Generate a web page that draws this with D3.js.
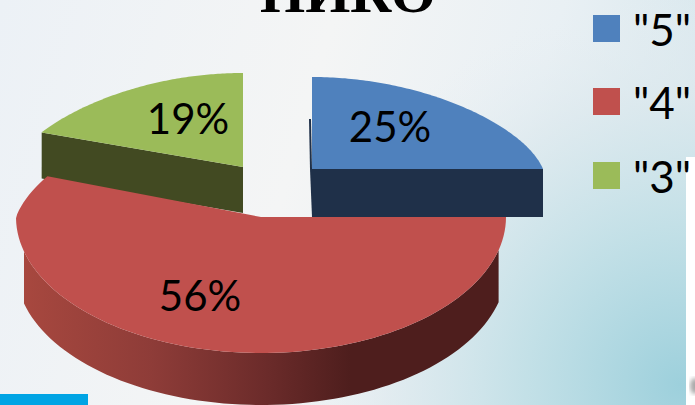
<!DOCTYPE html>
<html>
<head>
<meta charset="utf-8">
<script src="https://cdn.jsdelivr.net/npm/d3@7"></script>
<style>
  html, body { margin: 0; padding: 0; background: #fff; overflow: hidden; }
  svg { display: block; }
  text { font-family: Lato, "Open Sans", sans-serif; fill: #000; }
</style>
</head>
<body>
<svg id="chart" width="695" height="405"></svg>
<script>
const titleText = 'НИКО';
const categories = ['"5"', '"4"', '"3"'];
const values = [25, 56, 19];
const colors = ['#4f81bd', '#c0504d', '#9bbb59'];
const sideColors = ['#1f3049', 'url(#redSide)', '#424a22'];

// each slice sits on its own ellipse, the picture is a stretched 3d pie
const centersX = [312, 261, 243];
const centersY = [169, 217, 167];
const radiiX = [231, 245, 231];
const backRadiiY = [92, 111, 94];
const frontRadiiY = [92, 136, 94];
const depths = [48, 52, 46];
const labelX = [390, 200, 188];
const labelY = [126, 295, 118];
const legendY = [28, 101, 175];

const narrowing = 0.17;
const wallStart = 30;

const svg = d3.select('#chart');
const defs = svg.append('defs');

function gradient(id, x1, y1, x2, y2, stops) {
    const g = defs.append('linearGradient').attr('id', id)
        .attr('gradientUnits', 'userSpaceOnUse')
        .attr('x1', x1).attr('y1', y1).attr('x2', x2).attr('y2', y2);
    stops.forEach(s => g.append('stop').attr('offset', s[0]).attr('stop-color', s[1]));
}

gradient('bg', 0, 0, 695, 200, [[0, '#ecf1f6'], [0.45, '#f4f5f5'], [0.75, '#e9f0f4'], [1, '#d5e6ec']]);
gradient('redSide', 20, 0, 350, 0, [[0, '#a8483f'], [0.4, '#8e3c38'], [0.75, '#6b2b2a'], [1, '#4e1e1d']]);

const teal = defs.append('radialGradient').attr('id', 'teal')
    .attr('gradientUnits', 'userSpaceOnUse')
    .attr('cx', 680).attr('cy', 385).attr('r', 390);
teal.append('stop').attr('offset', 0).attr('stop-color', '#9dd0dc').attr('stop-opacity', 1);
teal.append('stop').attr('offset', 0.4).attr('stop-color', '#c0dfe6').attr('stop-opacity', 0.9);
teal.append('stop').attr('offset', 0.75).attr('stop-color', '#dde9ee').attr('stop-opacity', 0.7);
teal.append('stop').attr('offset', 1).attr('stop-color', '#e9eff3').attr('stop-opacity', 0);

defs.append('filter').attr('id', 'soft').append('feGaussianBlur').attr('stdDeviation', 2);

// background
svg.append('rect').attr('width', 695).attr('height', 405).attr('fill', 'url(#bg)');
svg.append('rect').attr('width', 695).attr('height', 405).attr('fill', 'url(#teal)');
svg.append('rect').attr('x', 686).attr('y', 157).attr('width', 9).attr('height', 248).attr('fill', '#fff');
svg.append('rect').attr('x', 0).attr('y', 394).attr('width', 88).attr('height', 11).attr('fill', '#00a4e4');
svg.append('ellipse').attr('cx', 695).attr('cy', 386).attr('rx', 5).attr('ry', 8)
    .attr('fill', '#aaa').attr('filter', 'url(#soft)');

// title is cut by the top of the picture
svg.append('text')
    .attr('x', 348).attr('y', 12)
    .attr('text-anchor', 'middle')
    .style('font-family', '"Liberation Serif", serif')
    .style('font-weight', 'bold')
    .style('font-size', '58px')
    .text(titleText);

const pieData = d3.pie().sort(null).value(d => d)(values);

// angle (clockwise from the top) to a point on the slice's rim
function rim(i, a) {
    const c = Math.cos(a);
    const squeeze = 1 - narrowing * Math.max(c, 0);
    return [
        centersX[i] + radiiX[i] * Math.sin(a) * squeeze,
        centersY[i] - (c > 0 ? backRadiiY[i] : frontRadiiY[i]) * c
    ];
}

function rimPoints(i, a0, a1) {
    return d3.range(0, 101).map(k => rim(i, a0 + (a1 - a0) * k / 100));
}

const line = d3.line();
const drawOrder = [2, 0, 1];

drawOrder.forEach(i => {
    const d = pieData[i];
    const apex = [centersX[i], centersY[i]];
    const down = p => [p[0], p[1] + depths[i]];
    const side = sideColors[i];

    if (i === 0) {
        // flat cut face below the straight right edge, thin sliver on the left
        const end = rim(i, d.endAngle);
        svg.append('path')
            .attr('d', line([apex, end, down(end), down(apex)]) + 'Z')
            .attr('fill', side);
        svg.append('path')
            .attr('d', line([[apex[0] - 1, apex[1] - 50], apex, down(apex), [apex[0] - 2, apex[1]], [apex[0] - 3, apex[1] - 50]]) + 'Z')
            .attr('fill', side);
    } else if (i === 2) {
        const start = rim(i, d.startAngle);
        svg.append('path')
            .attr('d', line([apex, start, down(start), down(apex)]) + 'Z')
            .attr('fill', side);
    } else {
        // curved outer wall of the big slice
        const wall = rimPoints(i, d.startAngle, d.endAngle).filter(p => p[1] >= centersY[i] + wallStart);
        svg.append('path')
            .attr('d', line(wall.concat(wall.map(down).reverse())) + 'Z')
            .attr('fill', side);
    }

    svg.append('path')
        .attr('d', line([apex].concat(rimPoints(i, d.startAngle, d.endAngle))) + 'Z')
        .attr('fill', colors[i]);
});

// percent labels
const total = d3.sum(values);
values.forEach((v, i) => {
    svg.append('text')
        .attr('x', labelX[i]).attr('y', labelY[i])
        .attr('text-anchor', 'middle')
        .attr('dominant-baseline', 'central')
        .style('font-size', '42px')
        .text(Math.round(v / total * 100) + '%');
});

// legend
categories.forEach((c, i) => {
    svg.append('rect')
        .attr('x', 593).attr('y', legendY[i] - 13)
        .attr('width', 27).attr('height', 27)
        .attr('fill', colors[i]);
    svg.append('text')
        .attr('x', 633).attr('y', legendY[i] + 1)
        .attr('dominant-baseline', 'central')
        .style('font-size', '44px')
        .text(c);
});
</script>
</body>
</html>
